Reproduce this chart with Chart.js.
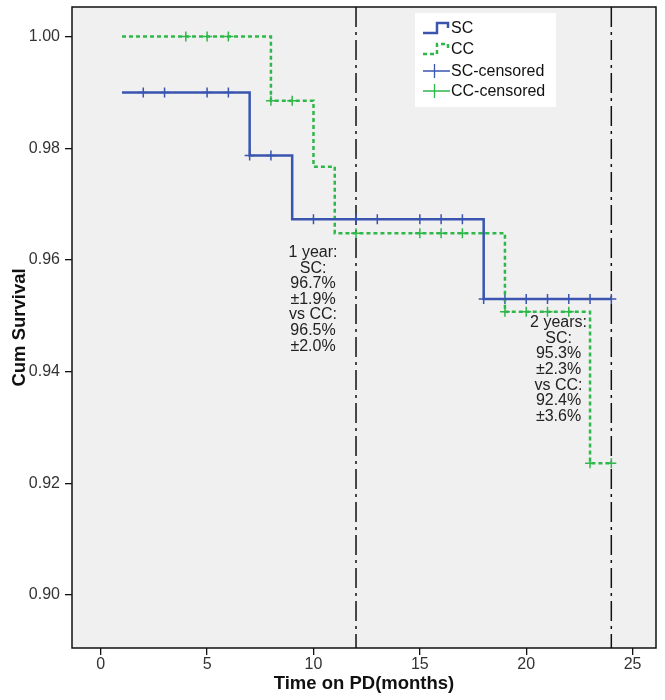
<!DOCTYPE html>
<html>
<head>
<meta charset="utf-8">
<script src="https://cdn.jsdelivr.net/npm/chart.js@4.4.1/dist/chart.umd.min.js"></script>
<style>
  html, body { margin: 0; padding: 0; background: #fff; }
  #wrap { width: 665px; height: 700px; }
</style>
</head>
<body>
<div id="wrap"><canvas id="kmChart" width="665" height="700"></canvas></div>
<script>
// Kaplan-Meier step data (time in months, cumulative survival)
const scTimes = [1, 7, 9, 18, 24];
const scSurv = [0.99, 0.9787, 0.9673, 0.953, 0.953];
const ccTimes = [1, 8, 10, 11, 19, 23, 24];
const ccSurv = [1.0, 0.9885, 0.9767, 0.9648, 0.9507, 0.9236, 0.9236];

// censored observations (time in months)
const scCensored = [2, 3, 5, 6, 7, 8, 10, 12, 13, 15, 16, 17, 18, 19, 20, 21, 22, 23, 24];
const ccCensored = [4, 5, 6, 8, 9, 12, 15, 16, 17, 18, 19, 20, 21, 22, 23, 24];

// reference lines at 1 and 2 years
const refMonths = [12, 24];

const xTicks = [0, 5, 10, 15, 20, 25];
const yTicks = [0.90, 0.92, 0.94, 0.96, 0.98, 1.00];
const xMin = -1.35, xMax = 26.1;
const yMin = 0.8905, yMax = 1.0053;

const notes = [
    {x: 9.98, y: 0.9613, lines: ['1 year:', 'SC:', '96.7%', '±1.9%', 'vs CC:', '96.5%', '±2.0%']},
    {x: 21.52, y: 0.94875, lines: ['2 years:', 'SC:', '95.3%', '±2.3%', 'vs CC:', '92.4%', '±3.6%']}
];

const blue = '#3a55b0';
const green = '#2fb84a';
const font = '"Liberation Sans", Arial, sans-serif';

function survAt(times, surv, t) {
    let v = surv[0];
    for (let i = 0; i < times.length; i++) {
        if (times[i] <= t) v = surv[i];
    }
    return v;
}

const toPoints = (xs, ys) => xs.map((x, i) => ({x: x, y: ys[i]}));

const datasets = [
    {
        label: 'SC', data: toPoints(scTimes, scSurv), stepped: true,
        borderColor: blue, borderWidth: 2.5, pointRadius: 0, showLine: true, fill: false
    },
    {
        label: 'CC', data: toPoints(ccTimes, ccSurv), stepped: true,
        borderColor: green, borderWidth: 2.5, borderDash: [4, 3], pointRadius: 0, showLine: true, fill: false
    },
    {
        label: 'SC-censored', data: scCensored.map(t => ({x: t, y: survAt(scTimes, scSurv, t)})),
        showLine: false, pointStyle: 'cross', pointRadius: 5, borderColor: blue, borderWidth: 1.5
    },
    {
        label: 'CC-censored', data: ccCensored.map(t => ({x: t, y: survAt(ccTimes, ccSurv, t)})),
        showLine: false, pointStyle: 'cross', pointRadius: 5, borderColor: green, borderWidth: 1.5
    }
];

refMonths.forEach(m => {
    datasets.push({
        label: 'ref', data: [{x: m, y: yMax}, {x: m, y: yMin}],
        showLine: true, borderColor: '#111', borderWidth: 1.5, borderDash: [20, 5, 3, 5], pointRadius: 0
    });
});

const plotFrame = {
    id: 'plotFrame',
    beforeDraw(chart) {
        const a = chart.chartArea, c = chart.ctx;
        c.save();
        c.fillStyle = '#f0f0f0';
        c.fillRect(a.left, a.top, a.right - a.left, a.bottom - a.top);
        c.restore();
    },
    afterDraw(chart) {
        const a = chart.chartArea, c = chart.ctx;
        c.save();
        c.strokeStyle = '#111';
        c.lineWidth = 1.5;
        c.strokeRect(a.left, a.top, a.right - a.left, a.bottom - a.top);
        c.restore();
    }
};

const notesPlugin = {
    id: 'notes',
    afterDatasetsDraw(chart) {
        const c = chart.ctx, xs = chart.scales.x, ys = chart.scales.y;
        c.save();
        c.font = '16px ' + font;
        c.fillStyle = '#222';
        c.textAlign = 'center';
        c.textBaseline = 'middle';
        notes.forEach(n => {
            const px = xs.getPixelForValue(n.x);
            const py = ys.getPixelForValue(n.y);
            n.lines.forEach((s, i) => c.fillText(s, px, py + i * 15.6));
        });
        c.restore();
    }
};

const legendBox = {
    id: 'legendBox',
    afterDatasetsDraw(chart) {
        const c = chart.ctx;
        const bx = 415, by = 13, bw = 141, bh = 94;
        c.save();
        c.fillStyle = '#fff';
        c.fillRect(bx, by, bw, bh);
        c.font = '16px ' + font;
        c.fillStyle = '#111';
        c.textBaseline = 'middle';
        const rows = [28, 49, 71, 91];
        chart.data.datasets.slice(0, 4).forEach((d, i) => {
            const y = rows[i];
            const x0 = bx + 8, x1 = bx + 35;
            c.strokeStyle = d.borderColor;
            if (i < 2) {
                c.lineWidth = 2.5;
                c.setLineDash(d.borderDash || []);
                c.beginPath();
                c.moveTo(x0, y + 5);
                c.lineTo(x0 + 14, y + 5);
                c.lineTo(x0 + 14, y - 5);
                c.lineTo(x1 - 2, y - 5);
                c.lineTo(x1 - 2, y);
                c.stroke();
                c.setLineDash([]);
            } else {
                c.lineWidth = 1.3;
                c.beginPath();
                c.moveTo(x0, y);
                c.lineTo(x1, y);
                c.moveTo((x0 + x1) / 2 - 2, y - 7);
                c.lineTo((x0 + x1) / 2 - 2, y + 7);
                c.stroke();
            }
            c.fillText(d.label, x1 + 1, y + 1);
        });
        c.restore();
    }
};

const ctx = document.getElementById('kmChart').getContext('2d');
const kmChart = new Chart(ctx, {
    type: 'scatter',
    data: {datasets: datasets},
    plugins: [plotFrame, notesPlugin, legendBox],
    options: {
        responsive: false,
        animation: false,
        layout: {padding: {left: 0, right: 9, top: 7, bottom: 0}},
        plugins: {
            legend: {display: false},
            tooltip: {enabled: false}
        },
        scales: {
            x: {
                type: 'linear', min: xMin, max: xMax,
                afterBuildTicks: s => { s.ticks = xTicks.map(v => ({value: v})); },
                afterFit: s => { s.height = 52; s.paddingLeft = 0; s.paddingRight = 0; },
                grid: {drawOnChartArea: false, drawTicks: true, tickLength: 7, color: '#111', lineWidth: 1.3},
                border: {display: false},
                ticks: {
                    color: '#333', padding: 0,
                    font: {family: font, size: 16}
                },
                title: {
                    display: true, text: 'Time on PD(months)', color: '#111',
                    padding: {top: 0, bottom: 5},
                    font: {family: font, size: 18.5, weight: 'bold'}
                }
            },
            y: {
                type: 'linear', min: yMin, max: yMax,
                afterBuildTicks: s => { s.ticks = yTicks.map(v => ({value: v})); },
                afterFit: s => { s.width = 72; s.paddingTop = 0; s.paddingBottom = 0; },
                grid: {drawOnChartArea: false, drawTicks: true, tickLength: 7, color: '#111', lineWidth: 1.3},
                border: {display: false},
                ticks: {
                    color: '#333', padding: 5,
                    callback: v => v.toFixed(2),
                    font: {family: font, size: 16}
                },
                title: {
                    display: true, text: 'Cum Survival', color: '#111',
                    padding: {top: 9, bottom: 0},
                    font: {family: font, size: 18.5, weight: 'bold'}
                }
            }
        }
    }
});
</script>
</body>
</html>
